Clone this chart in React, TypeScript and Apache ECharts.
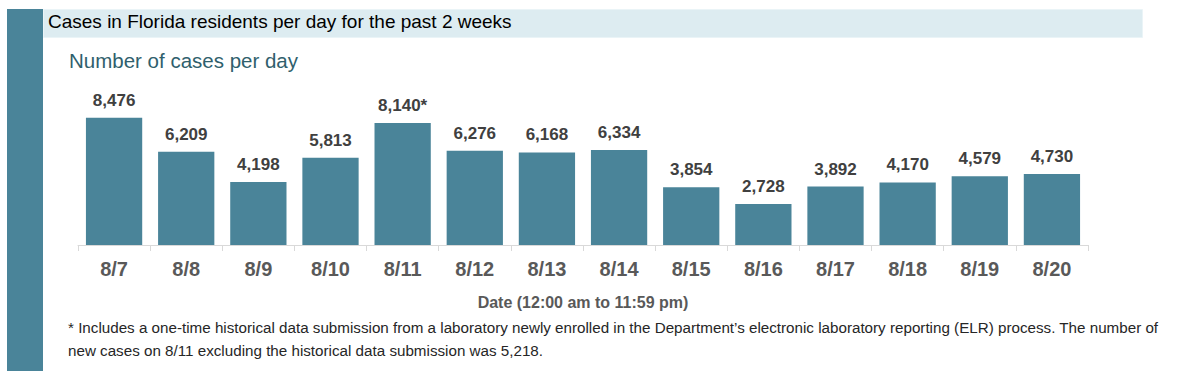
import React, { useEffect, useRef } from "react";
import * as echarts from "echarts";

const categories = ["8/7", "8/8", "8/9", "8/10", "8/11", "8/12", "8/13", "8/14", "8/15", "8/16", "8/17", "8/18", "8/19", "8/20"];
const cases = [8476, 6209, 4198, 5813, 8140, 6276, 6168, 6334, 3854, 2728, 3892, 4170, 4579, 4730];
const markedCategories = ["8/11"];

const headerTitle = "Cases in Florida residents per day for the past 2 weeks";
const chartTitle = "Number of cases per day";
const xAxisTitle = "Date (12:00 am to 11:59 pm)";
const footnoteLines = [
  "* Includes a one-time historical data submission from a laboratory newly enrolled in the Department\u2019s electronic laboratory reporting (ELR) process. The number of",
  "new cases on 8/11 excluding the historical data submission was 5,218.",
];

const FONT = "'Liberation Sans', Arial, sans-serif";

export default function App() {
  const ref = useRef<HTMLDivElement>(null);
  useEffect(() => {
    document.body.style.margin = "0";
    if (!ref.current) return;
    const chart = echarts.init(ref.current, null, { renderer: "svg" });
    chart.setOption({
      animation: false,
      backgroundColor: "#ffffff",
      grid: { left: 78, right: 112, top: 95, bottom: 126 },
      xAxis: {
        type: "category",
        data: categories,
        axisLine: { show: true, lineStyle: { color: "#d9d9d9", width: 1 } },
        axisTick: { show: true, length: 6, lineStyle: { color: "#d9d9d9" } },
        axisLabel: { color: "#595959", fontSize: 20, fontWeight: "bold", fontFamily: FONT, margin: 14 },
        name: xAxisTitle,
        nameLocation: "middle",
        nameGap: 49,
        nameTextStyle: { color: "#595959", fontSize: 16, fontWeight: "bold", fontFamily: FONT },
      },
      yAxis: {
        type: "value",
        min: 0,
        max: 10000,
        show: false,
        splitLine: { show: false },
      },
      series: [
        {
          type: "bar",
          data: cases,
          barCategoryGap: "22%",
          itemStyle: { color: "#4a8499" },
          label: {
            show: true,
            position: "top",
            distance: 9,
            color: "#404040",
            fontSize: 17,
            fontWeight: "bold",
            fontFamily: FONT,
            formatter: (p: any) =>
              p.value.toLocaleString("en-US") + (markedCategories.includes(p.name) ? "*" : ""),
          },
        },
      ],
      graphic: [
        { type: "rect", left: 7, top: 9, shape: { width: 36, height: 362 }, style: { fill: "#4a8499" } },
        { type: "rect", left: 43, top: 9, shape: { width: 1099, height: 28 }, style: { fill: "#ddecf1", stroke: "#eaf4f7", lineWidth: 1 } },
        { type: "text", left: 48, top: 12, style: { text: headerTitle, fill: "#000000", font: `19px ${FONT}` } },
        { type: "text", left: 69, top: 50, style: { text: chartTitle, fill: "#305f6d", font: `20.5px ${FONT}` } },
        { type: "text", left: 68, top: 320, style: { text: footnoteLines[0], fill: "#262626", font: `15.2px ${FONT}` } },
        { type: "text", left: 68, top: 343, style: { text: footnoteLines[1], fill: "#262626", font: `15.2px ${FONT}` } },
      ],
    });
    return () => chart.dispose();
  }, []);
  return <div ref={ref} style={{ width: 1200, height: 371 }} />;
}
